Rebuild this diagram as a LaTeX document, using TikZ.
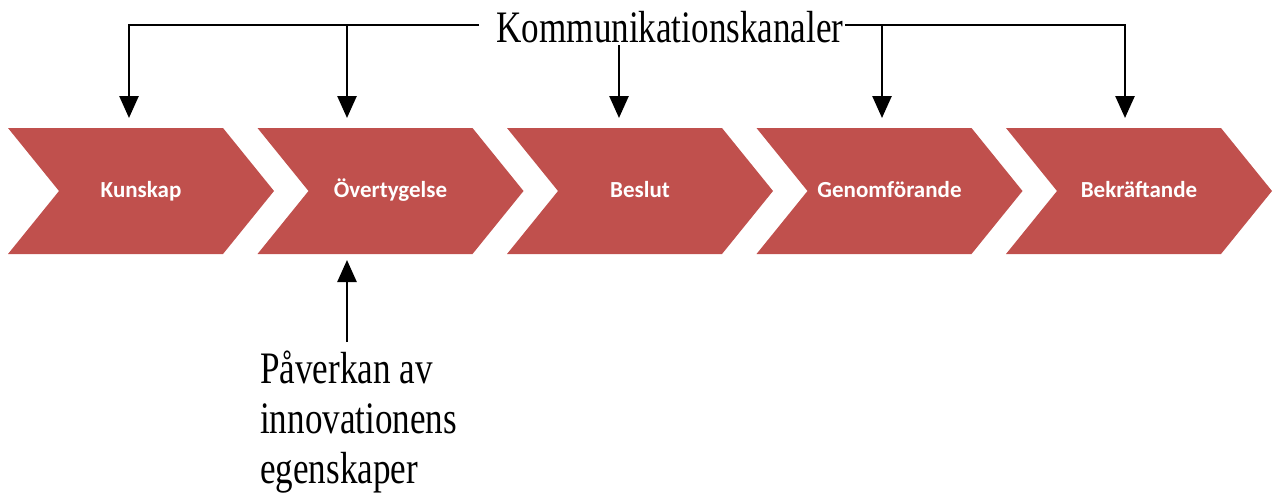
\documentclass[tikz,border=0pt]{standalone}
\usepackage{fontspec}
\newfontfamily\serifx[FakeStretch=0.78]{Liberation Serif}
\newfontfamily\calib{Carlito}
\usetikzlibrary{arrows.meta}
\definecolor{chevred}{RGB}{192,80,77}
\begin{document}
\begin{tikzpicture}[x=1pt,y=-1pt,
  chev/.style={fill=chevred, draw=none},
  chevtext/.style={text=white, font=\calib\bfseries\fontsize{23}{27}\selectfont, anchor=base, inner sep=0pt},
  conn/.style={line width=2.6pt, -{Triangle[width=19pt,length=22pt]}},
  bigtext/.style={font=\serifx\fontsize{45}{50}\selectfont, inner sep=0pt, text=black}]
\useasboundingbox (0,0) rectangle (1274,499);
% chevrons
\foreach \i/\t in {0/Kunskap,1/Övertygelse,2/Beslut,3/Genomförande,4/Bekräftande}{
  \pgfmathsetmacro\xo{8+249.5*\i}
  \fill[chev] (\xo,128) -- ++(215,0) -- ++(51,63) -- ++(-51,63) -- ++(-215,0) -- ++(51,-63) -- cycle;
  \node[chevtext] (c\i) at (\xo+133,197) {\t};
}
% top label
\node[bigtext, anchor=base] (kk) at (670,42) {Kommunikationskanaler};
\coordinate (hl) at (479,25);
\coordinate (hr) at (845,25);
\coordinate (j2) at (347,25);
\coordinate (j4) at (882,25);
\coordinate (s3) at (619,45);
\coordinate (t1) at (129,118);
\coordinate (t2) at (347,118);
\coordinate (t3) at (619,118);
\coordinate (t4) at (882,118);
\coordinate (t5) at (1125,118);
\draw[conn] (hl) -| (t1);
\draw[conn] (j2) -- (t2);
\draw[conn] (s3) -- (t3);
\draw[conn] (hr) -| (t5);
\draw[conn] (j4) -- (t4);
% bottom label
\node[bigtext, anchor=base west] (p1) at (260,383) {Påverkan av};
\node[bigtext, anchor=base west] (p2) at (260,433) {innovationens};
\node[bigtext, anchor=base west] (p3) at (260,483) {egenskaper};
\coordinate (ub) at (347,342);
\coordinate (ut) at (347,260);
\draw[conn] (ub) -- (ut);
\end{tikzpicture}
\end{document}
